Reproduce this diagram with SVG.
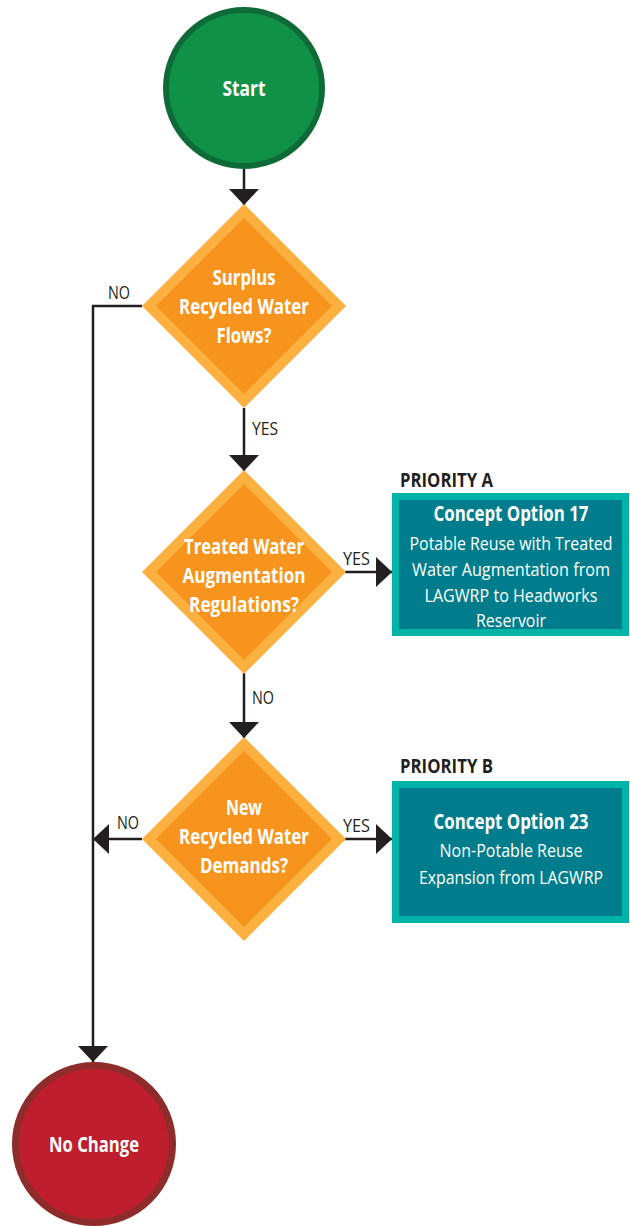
<svg xmlns="http://www.w3.org/2000/svg" width="630" height="1226" viewBox="0 0 630 1226">
<style>
text{font-family:"Open Sans","DejaVu Sans Condensed","Liberation Sans",sans-serif;}
.wb{fill:#ffffff;font-weight:bold;font-size:21px;text-anchor:middle;}
.wr{fill:#ffffff;font-size:19px;text-anchor:middle;}
.lbl{fill:#231F20;font-size:19px;}
.pri{fill:#231F20;font-size:20px;font-weight:bold;}
.dOut{fill:#FBB040;}
.dIn{fill:#F7941D;}
.box{fill:#007D8C;stroke:#00B3A7;stroke-width:7;}
.con{fill:none;stroke:#231F20;stroke-width:2.5;}
</style>
<defs>
<marker id="ah" viewBox="0 0 16 30" refX="16" refY="15" markerWidth="16" markerHeight="30" markerUnits="userSpaceOnUse" orient="auto">
<path d="M0,0 L16,15 L0,30 Z" fill="#231F20"/>
</marker>
</defs>

<g id="connectors">
<path class="con" d="M244,169 V205" marker-end="url(#ah)"/>
<path class="con" d="M142,306 H93 V1062" marker-end="url(#ah)"/>
<path class="con" d="M244,408 V471" marker-end="url(#ah)"/>
<path class="con" d="M345,572 H392" marker-end="url(#ah)"/>
<path class="con" d="M244,673 V738" marker-end="url(#ah)"/>
<path class="con" d="M142,839 H93" marker-end="url(#ah)"/>
<path class="con" d="M345,839 H392" marker-end="url(#ah)"/>
<text class="lbl" x="108" y="299" textLength="22" lengthAdjust="spacingAndGlyphs">NO</text>
<text class="lbl" x="252" y="435" textLength="26" lengthAdjust="spacingAndGlyphs">YES</text>
<text class="lbl" x="343" y="565" textLength="27" lengthAdjust="spacingAndGlyphs">YES</text>
<text class="lbl" x="252" y="704" textLength="22" lengthAdjust="spacingAndGlyphs">NO</text>
<text class="lbl" x="117" y="829" textLength="22" lengthAdjust="spacingAndGlyphs">NO</text>
<text class="lbl" x="343" y="832" textLength="27" lengthAdjust="spacingAndGlyphs">YES</text>
</g>

<g id="start">
<circle cx="244" cy="88" r="78" fill="#109148" stroke="#0E6B38" stroke-width="6"/>
<text class="wb" x="244" y="96" font-size="22" textLength="43" lengthAdjust="spacingAndGlyphs">Start</text>
</g>

<g id="d1">
<polygon class="dOut" points="244,204 346,306 244,408 142,306"/>
<polygon class="dIn" points="244,218 332,306 244,394 156,306"/>
<text class="wb" x="244" y="285" textLength="63" lengthAdjust="spacingAndGlyphs">Surplus</text>
<text class="wb" x="244" y="314" textLength="130" lengthAdjust="spacingAndGlyphs">Recycled Water</text>
<text class="wb" x="244" y="343" textLength="55" lengthAdjust="spacingAndGlyphs">Flows?</text>
</g>

<g id="d2">
<polygon class="dOut" points="244,470 346,572 244,674 142,572"/>
<polygon class="dIn" points="244,484 332,572 244,660 156,572"/>
<text class="wb" x="244" y="554" textLength="120" lengthAdjust="spacingAndGlyphs">Treated Water</text>
<text class="wb" x="244" y="583" textLength="123" lengthAdjust="spacingAndGlyphs">Augmentation</text>
<text class="wb" x="244" y="612" textLength="110" lengthAdjust="spacingAndGlyphs">Regulations?</text>
</g>

<g id="d3">
<polygon class="dOut" points="244,737 346,839 244,941 142,839"/>
<polygon class="dIn" points="244,751 332,839 244,927 156,839"/>
<text class="wb" x="244" y="815" textLength="36" lengthAdjust="spacingAndGlyphs">New</text>
<text class="wb" x="244" y="844" textLength="130" lengthAdjust="spacingAndGlyphs">Recycled Water</text>
<text class="wb" x="244" y="873" textLength="88" lengthAdjust="spacingAndGlyphs">Demands?</text>
</g>

<g id="optA">
<text class="pri" x="400" y="487" textLength="93" lengthAdjust="spacingAndGlyphs">PRIORITY A</text>
<rect class="box" x="395.5" y="496.5" width="230" height="136"/>
<text class="wb" x="511" y="521" textLength="155" lengthAdjust="spacingAndGlyphs">Concept Option 17</text>
<text class="wr" x="511" y="550" textLength="203" lengthAdjust="spacingAndGlyphs">Potable Reuse with Treated</text>
<text class="wr" x="511" y="576" textLength="198" lengthAdjust="spacingAndGlyphs">Water Augmentation from</text>
<text class="wr" x="511" y="602" textLength="173" lengthAdjust="spacingAndGlyphs">LAGWRP to Headworks</text>
<text class="wr" x="511" y="627" textLength="70" lengthAdjust="spacingAndGlyphs">Reservoir</text>
</g>

<g id="optB">
<text class="pri" x="400" y="773" textLength="93" lengthAdjust="spacingAndGlyphs">PRIORITY B</text>
<rect class="box" x="395.5" y="784.5" width="230" height="135"/>
<text class="wb" x="511" y="829" textLength="155" lengthAdjust="spacingAndGlyphs">Concept Option 23</text>
<text class="wr" x="511" y="857" textLength="143" lengthAdjust="spacingAndGlyphs">Non-Potable Reuse</text>
<text class="wr" x="511" y="884" textLength="184" lengthAdjust="spacingAndGlyphs">Expansion from LAGWRP</text>
</g>

<g id="nochange">
<circle cx="94" cy="1144" r="78.5" fill="#BE1E2D" stroke="#8E2C2B" stroke-width="7"/>
<text class="wb" x="94" y="1152" font-size="22" textLength="90" lengthAdjust="spacingAndGlyphs">No Change</text>
</g>
</svg>
